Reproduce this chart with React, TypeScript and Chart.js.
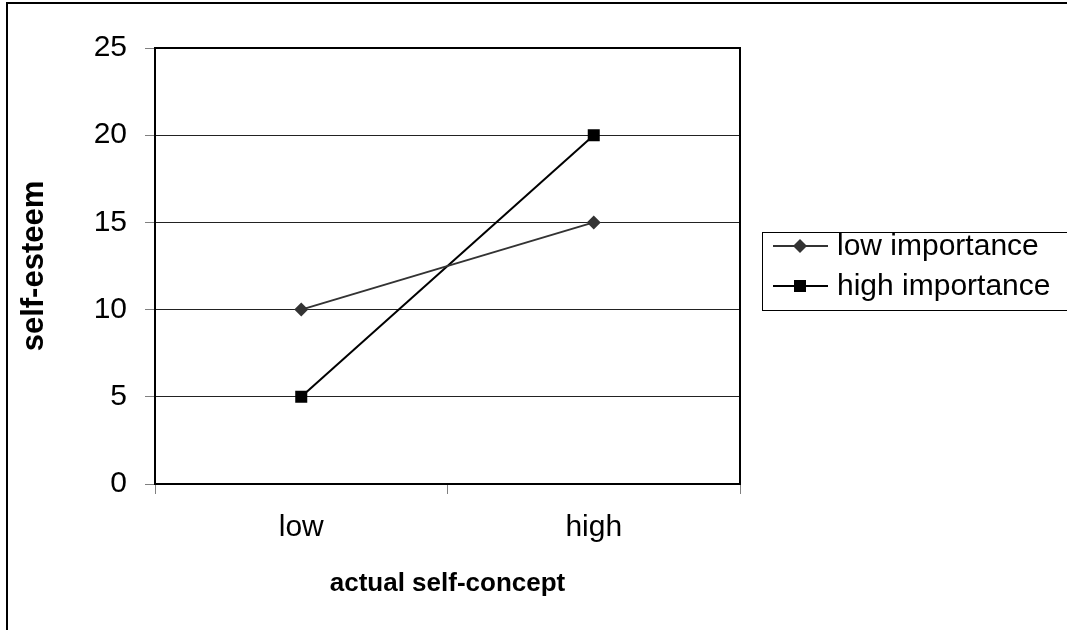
import React, { useEffect, useRef } from "react";
import { Chart, registerables } from "chart.js";

Chart.register(...registerables);

const categories = ["low", "high"];
const lowImportance = [10, 15];
const highImportance = [5, 20];
const seriesNames = ["low importance", "high importance"];
const yTitle = "self-esteem";
const xTitle = "actual self-concept";

const FONT = "'Liberation Sans', Arial, sans-serif";

const framePlugin = {
  id: "frame",
  beforeDatasetsDraw(chart: any) {
    const { ctx, chartArea } = chart;
    ctx.save();
    ctx.strokeStyle = "#000";
    ctx.lineWidth = 2;
    ctx.beginPath();
    ctx.moveTo(chartArea.left, chartArea.top);
    ctx.lineTo(chartArea.right, chartArea.top);
    ctx.lineTo(chartArea.right, chartArea.bottom);
    ctx.stroke();
    ctx.restore();
  },
  afterDraw(chart: any) {
    const { ctx } = chart;
    ctx.save();
    // outer border (left & top)
    ctx.strokeStyle = "#000";
    ctx.lineWidth = 2;
    ctx.beginPath();
    ctx.moveTo(7, 640);
    ctx.lineTo(7, 3);
    ctx.lineTo(1080, 3);
    ctx.stroke();
    // legend box
    ctx.lineWidth = 1;
    ctx.strokeRect(762.5, 232.5, 400, 78);
    const rows = [
      { y: 246, style: "rectRot", color: "#333333", radius: 7 },
      { y: 286, style: "rect", color: "#000000", radius: 8.5 },
    ];
    rows.forEach((r, i) => {
      ctx.strokeStyle = r.color;
      ctx.lineWidth = 2;
      ctx.beginPath();
      ctx.moveTo(773, r.y);
      ctx.lineTo(828, r.y);
      ctx.stroke();
      ctx.fillStyle = r.color;
      ctx.beginPath();
      if (r.style === "rectRot") {
        ctx.moveTo(800 - r.radius, r.y);
        ctx.lineTo(800, r.y - r.radius);
        ctx.lineTo(800 + r.radius, r.y);
        ctx.lineTo(800, r.y + r.radius);
        ctx.closePath();
      } else {
        const s = r.radius * Math.SQRT1_2;
        ctx.rect(800 - s, r.y - s, 2 * s, 2 * s);
      }
      ctx.fill();
      ctx.fillStyle = "#000";
      ctx.font = `30px ${FONT}`;
      ctx.textBaseline = "middle";
      ctx.textAlign = "left";
      ctx.fillText(seriesNames[i], 837, r.y + 1);
    });
    ctx.restore();
  },
};

export default function App() {
  const ref = useRef<HTMLCanvasElement>(null);
  useEffect(() => {
    if (!ref.current) return;
    const chart = new Chart(ref.current, {
      type: "line",
      data: {
        labels: categories,
        datasets: [
          {
            label: seriesNames[0],
            data: lowImportance,
            borderColor: "#333333",
            backgroundColor: "#333333",
            borderWidth: 2,
            pointStyle: "rectRot",
            pointRadius: 7,
            pointBorderWidth: 0,
            tension: 0,
          },
          {
            label: seriesNames[1],
            data: highImportance,
            borderColor: "#000000",
            backgroundColor: "#000000",
            borderWidth: 2,
            pointStyle: "rect",
            pointRadius: 8.5,
            pointBorderWidth: 0,
            tension: 0,
          },
        ],
      },
      options: {
        animation: false,
        responsive: false,
        maintainAspectRatio: false,
        layout: { padding: { left: 0, top: 48, right: 327, bottom: 0 } },
        plugins: { legend: { display: false }, tooltip: { enabled: false } },
        scales: {
          x: {
            offset: true,
            grid: {
              offset: true,
              drawOnChartArea: false,
              drawTicks: true,
              tickLength: 10,
              tickColor: "#808080",
              tickWidth: 1,
            },
            border: { color: "#000", width: 2 },
            ticks: { color: "#000", font: { family: FONT, size: 30 }, padding: 16 },
            title: {
              display: true,
              text: xTitle,
              color: "#000",
              font: { family: FONT, size: 26, weight: "bold" },
              padding: { top: 0, bottom: 31 },
            },
            afterFit: (s: any) => {
              s.height = 146;
            },
          },
          y: {
            min: 0,
            max: 25,
            ticks: {
              stepSize: 5,
              color: "#000",
              font: { family: FONT, size: 30 },
              padding: 18,
            },
            grid: {
              color: "#222",
              lineWidth: 1,
              tickColor: "#808080",
              tickLength: 10,
            },
            border: { color: "#000", width: 2 },
            title: {
              display: true,
              text: yTitle,
              color: "#000",
              font: { family: FONT, size: 31, weight: "bold" },
              padding: { top: 16, bottom: 0 },
            },
            afterFit: (s: any) => {
              s.width = 155;
            },
          },
        },
      },
      plugins: [framePlugin],
    });
    return () => chart.destroy();
  }, []);
  return (
    <div style={{ position: "fixed", left: 0, top: 0, width: 1067, height: 630, background: "#fff" }}>
      <canvas ref={ref} width={1067} height={630} />
    </div>
  );
}
